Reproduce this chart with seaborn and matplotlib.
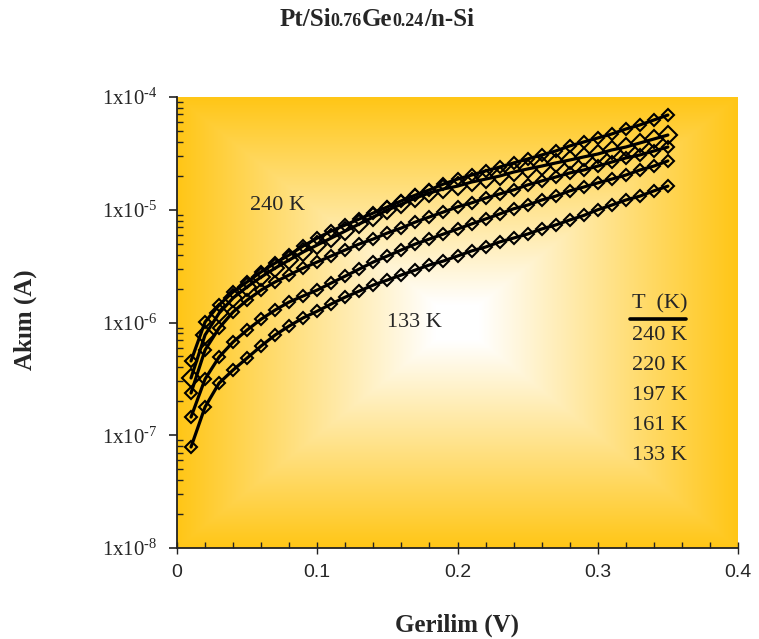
import numpy as np
import pandas as pd
import matplotlib
matplotlib.use("Agg")
import matplotlib.pyplot as plt
import seaborn as sns
from matplotlib.offsetbox import TextArea, HPacker, AnchoredOffsetbox
from matplotlib.ticker import FixedLocator, LogLocator, NullFormatter, MultipleLocator

# Forward-bias I-V data of the Pt/Si0.76Ge0.24/n-Si diode
voltage = [round(0.01 * k, 2) for k in range(1, 36)]

i_240 = [4.56e-7, 1.01e-6, 1.43e-6, 1.87e-6, 2.29e-6, 2.81e-6, 3.37e-6, 3.97e-6, 4.77e-6, 5.61e-6,
         6.48e-6, 7.33e-6, 8.28e-6, 9.36e-6, 1.06e-5, 1.20e-5, 1.35e-5, 1.50e-5, 1.69e-5, 1.87e-5,
         2.03e-5, 2.21e-5, 2.39e-5, 2.60e-5, 2.82e-5, 3.06e-5, 3.32e-5, 3.68e-5, 3.99e-5, 4.33e-5,
         4.70e-5, 5.20e-5, 5.65e-5, 6.25e-5, 6.92e-5]
i_220 = [3.22e-7, 7.75e-7, 1.21e-6, 1.65e-6, 2.07e-6, 2.53e-6, 3.04e-6, 3.58e-6, 4.22e-6, 4.87e-6,
         5.61e-6, 6.48e-6, 7.48e-6, 8.63e-6, 9.95e-6, 1.12e-5, 1.27e-5, 1.41e-5, 1.53e-5, 1.62e-5,
         1.76e-5, 1.87e-5, 1.99e-5, 2.16e-5, 2.30e-5, 2.44e-5, 2.60e-5, 2.76e-5, 2.94e-5, 3.12e-5,
         3.39e-5, 3.60e-5, 3.91e-5, 4.24e-5, 4.60e-5]
i_197 = [2.37e-7, 5.70e-7, 8.94e-7, 1.24e-6, 1.58e-6, 1.94e-6, 2.29e-6, 2.64e-6, 3.04e-6, 3.44e-6,
         3.89e-6, 4.40e-6, 4.97e-6, 5.50e-6, 6.22e-6, 6.89e-6, 7.78e-6, 8.63e-6, 9.55e-6, 1.06e-5,
         1.15e-5, 1.27e-5, 1.38e-5, 1.50e-5, 1.66e-5, 1.80e-5, 1.95e-5, 2.12e-5, 2.25e-5, 2.44e-5,
         2.65e-5, 2.88e-5, 3.06e-5, 3.32e-5, 3.60e-5]
i_161 = [1.45e-7, 3.15e-7, 4.94e-7, 6.72e-7, 8.58e-7, 1.07e-6, 1.29e-6, 1.52e-6, 1.72e-6, 1.94e-6,
         2.24e-6, 2.58e-6, 2.98e-6, 3.44e-6, 3.89e-6, 4.40e-6, 4.97e-6, 5.50e-6, 6.09e-6, 6.75e-6,
         7.48e-6, 8.28e-6, 9.17e-6, 1.02e-5, 1.10e-5, 1.22e-5, 1.32e-5, 1.47e-5, 1.59e-5, 1.73e-5,
         1.87e-5, 2.03e-5, 2.25e-5, 2.44e-5, 2.71e-5]
i_133 = [7.87e-8, 1.78e-7, 2.90e-7, 3.79e-7, 4.84e-7, 6.19e-7, 7.75e-7, 9.31e-7, 1.10e-6, 1.26e-6,
         1.46e-6, 1.68e-6, 1.90e-6, 2.15e-6, 2.38e-6, 2.64e-6, 2.92e-6, 3.24e-6, 3.51e-6, 3.89e-6,
         4.31e-6, 4.67e-6, 5.18e-6, 5.61e-6, 6.09e-6, 6.75e-6, 7.33e-6, 8.11e-6, 8.90e-6, 1.00e-5,
         1.10e-5, 1.22e-5, 1.32e-5, 1.47e-5, 1.62e-5]

temperatures = ["240 K", "220 K", "197 K", "161 K", "133 K"]
currents = [i_240, i_220, i_197, i_161, i_133]
marker_sizes = [6.0, 9.0, 6.0, 6.0, 6.0]

y_ticks = [1e-8, 1e-7, 1e-6, 1e-5, 1e-4]
y_exponents = ["\u20108", "\u20107", "\u20106", "\u20105", "\u20104"]
x_ticks = [0, 0.1, 0.2, 0.3, 0.4]
x_tick_labels = ["0", "0.1", "0.2", "0.3", "0.4"]

df = pd.DataFrame({
    "V": np.tile(voltage, len(temperatures)),
    "I": np.concatenate(currents),
    "T": np.repeat(temperatures, len(voltage)),
})

sns.set_theme(style="ticks")
plt.rcParams["font.family"] = ["Liberation Serif", "DejaVu Serif"]
plt.rcParams["mathtext.fontset"] = "custom"
plt.rcParams["mathtext.rm"] = "Liberation Serif"
plt.rcParams["mathtext.it"] = "Liberation Serif"
plt.rcParams["mathtext.bf"] = "Liberation Serif:bold"
plt.rcParams["mathtext.default"] = "regular"

fig = plt.figure(figsize=(7.59, 6.39), dpi=100)
rect = [177 / 759, 1 - 548 / 639, (738 - 177) / 759, (548 - 97) / 639]

# plot-area fill: rectangular gradient, white centre to gold edges
bg = fig.add_axes(rect, zorder=0)
u = np.linspace(-1, 1, 600)
v = np.linspace(-1, 1, 500)
U, V = np.meshgrid(u, v)
t = np.clip((np.maximum(np.abs(U), np.abs(V)) - 0.08) / 0.92, 0, 1)[..., None]
gold = np.array([255, 198, 22]) / 255.0
white = np.array([1.0, 1.0, 1.0])
bg.imshow(white * (1 - t) + gold * t, extent=(0, 1, 0, 1), aspect="auto",
          interpolation="bilinear")
bg.set_axis_off()

ax = fig.add_axes(rect, zorder=1)
ax.set_facecolor("none")

for temp, ms in zip(temperatures, marker_sizes):
    sub = df[df["T"] == temp]
    sns.lineplot(data=sub, x="V", y="I", ax=ax, color="black", linewidth=2.3,
                 marker="D", markersize=ms, markerfacecolor="none",
                 markeredgecolor="black", markeredgewidth=1.5,
                 errorbar=None, legend=False)

ax.set_yscale("log")
ax.set_xlim(0, 0.4)
ax.set_ylim(1e-8, 1e-4)

ax.yaxis.set_major_locator(FixedLocator(y_ticks))
ax.set_yticklabels(["1x10$^{" + e + "}$" for e in y_exponents], fontsize=15,
                   family="Liberation Serif")
ax.yaxis.set_minor_locator(LogLocator(base=10, subs=np.arange(2, 10)))
ax.yaxis.set_minor_formatter(NullFormatter())
ax.xaxis.set_major_locator(FixedLocator(x_ticks))
ax.set_xticklabels(x_tick_labels, fontsize=14, family="Liberation Sans")
ax.xaxis.set_minor_locator(MultipleLocator(0.02))

ax.tick_params(axis="y", which="major", direction="out", length=6, width=1.2, pad=8, color="#222222")
ax.tick_params(axis="y", which="minor", direction="in", length=4, width=1.0, color="#222222")
ax.tick_params(axis="x", which="major", direction="inout", length=9, width=1.0, pad=7, color="#222222")
ax.tick_params(axis="x", which="minor", direction="in", length=4, width=1.0, color="#222222")

for side in ["left", "bottom"]:
    ax.spines[side].set_linewidth(1.3)
    ax.spines[side].set_color("#222222")
for side in ["top", "right"]:
    ax.spines[side].set_visible(False)

ax.set_xlabel("")
ax.set_ylabel("")

# curve labels
ax.text(0.130, 0.760, "240 K", transform=ax.transAxes, fontsize=16, va="center", ha="left")
ax.text(0.374, 0.499, "133 K", transform=ax.transAxes, fontsize=16, va="center", ha="left")

# temperature key
ax.text(0.811, 0.541, "T  (K)", transform=ax.transAxes, fontsize=16, va="center", ha="left")
ax.plot([0.807, 0.907], [0.508, 0.508], transform=ax.transAxes, color="black", linewidth=2.6)
for k, temp in enumerate(temperatures):
    ax.text(0.811, 0.472 - k * 0.0665, temp, transform=ax.transAxes, fontsize=16,
            va="center", ha="left")

# axis titles
fig.text(0.602, 0.022, "Gerilim (V)", fontsize=18, fontweight="bold", ha="center", va="center")
fig.text(0.033, 0.499, "Akım (A)", fontsize=18, fontweight="bold", rotation=90,
         ha="center", va="center")

# chart title with small composition numbers on the baseline
big = dict(fontsize=18, fontweight="bold", family="Liberation Serif")
small = dict(fontsize=13, fontweight="bold", family="Liberation Serif")
title_box = HPacker(children=[TextArea("Pt/Si", textprops=big), TextArea("0.76", textprops=small),
                              TextArea("Ge", textprops=big), TextArea("0.24", textprops=small),
                              TextArea("/n-Si", textprops=big)],
                    align="baseline", pad=0, sep=0)
anchored = AnchoredOffsetbox(loc="center", child=title_box, frameon=False,
                             bbox_to_anchor=(0.496, 0.970), bbox_transform=fig.transFigure,
                             borderpad=0, pad=0)
fig.add_artist(anchored)

fig.savefig("out.png", dpi=100)
